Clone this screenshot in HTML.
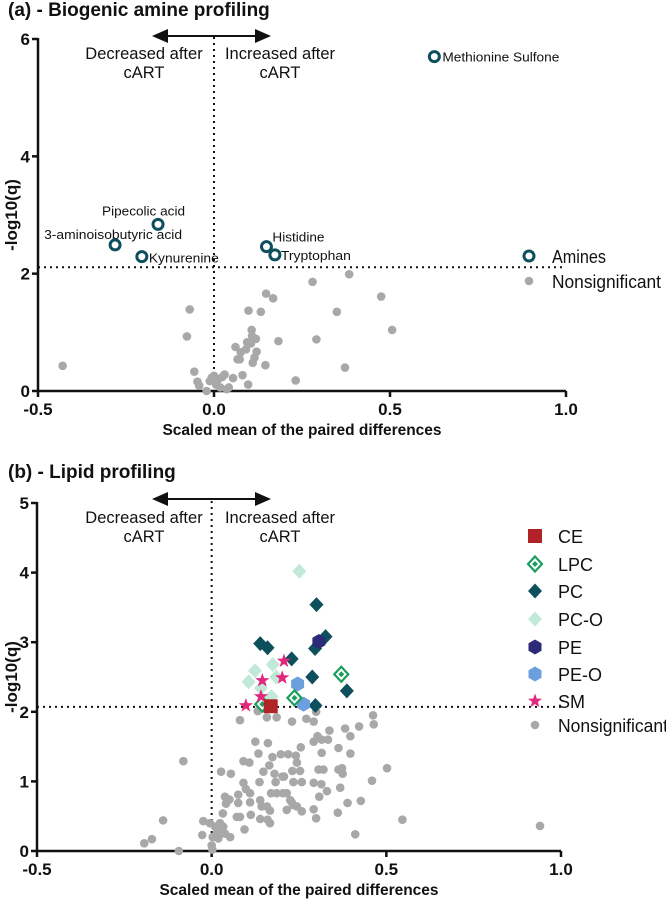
<!DOCTYPE html>
<html><head><meta charset="utf-8">
<style>
html,body{margin:0;padding:0;background:#fff;}
svg{display:block;font-family:"Liberation Sans",sans-serif;}
</style></head>
<body>
<svg id="chart" width="666" height="901" viewBox="0 0 666 901" xmlns="http://www.w3.org/2000/svg">
</svg>
<script>
// ---------- Panel A data ----------
const aTicksX = [-0.5, 0.0, 0.5, 1.0];
const aTickLabelsX = ["-0.5", "0.0", "0.5", "1.0"];
const aTicksY = [0, 2, 4, 6];
const aThreshold = 2.11;
const aAmineNames = ["Methionine Sulfone","Pipecolic acid","3-aminoisobutyric acid","Kynurenine","Histidine","Tryptophan"];
const aAmineX = [0.626, -0.159, -0.281, -0.205, 0.149, 0.173];
const aAmineY = [5.70, 2.84, 2.49, 2.29, 2.46, 2.32];
const aNsX = [-0.43,-0.069,-0.077,-0.056,-0.047,-0.042,-0.021,-0.012,-0.006,0,0.006,0.012,0.018,0.024,0.03,0.036,0.042,0.054,0.061,0.067,0.073,0.076,0.081,0.091,0.094,0.097,0.098,0.105,0.107,0.108,0.11,0.115,0.119,0.121,0.133,0.146,0.148,0.168,0.183,0.232,0.28,0.291,0.349,0.372,0.384,0.475,0.506];
const aNsY = [0.43,1.39,0.93,0.33,0.16,0.09,0.0,0.17,0.23,0.26,0.11,0.2,0.06,0.24,0.28,0.03,0.06,0.22,0.75,0.54,0.54,0.66,0.27,0.71,0.83,0.11,1.37,0.81,1.04,0.94,0.48,0.57,0.89,0.67,1.35,0.44,1.66,1.58,0.85,0.18,1.86,0.88,1.35,0.4,1.99,1.61,1.04];

// ---------- Panel B data ----------
const bTicksY = [0, 1, 2, 3, 4, 5];
const bThreshold = 2.07;
const ceX = [0.169]; const ceY = [2.08];
const lpcX = [0.371, 0.237, 0.145]; const lpcY = [2.54, 2.20, 2.11];
const pcX = [0.30, 0.326, 0.139, 0.160, 0.296, 0.229, 0.288, 0.387, 0.297];
const pcY = [3.54, 3.08, 2.98, 2.92, 2.91, 2.76, 2.50, 2.30, 2.09];
const pcoX = [0.251, 0.124, 0.175, 0.185, 0.106, 0.141, 0.171];
const pcoY = [4.02, 2.59, 2.68, 2.50, 2.43, 2.34, 2.22];
const peX = [0.307]; const peY = [3.01];
const peoX = [0.246, 0.263]; const peoY = [2.40, 2.11];
const smX = [0.207, 0.202, 0.145, 0.141, 0.098]; const smY = [2.73, 2.49, 2.45, 2.22, 2.09];
const bNsX = [-0.081,-0.139,-0.193,-0.171,-0.094,-0.024,-0.027,-0.005,0.003,0.000,0.002,0.010,0.014,0.019,0.024,0.029,0.033,0.038,0.053,0.032,0.038,0.051,0.041,0.027,0.055,0.076,0.076,0.072,0.081,0.094,0.091,0.098,0.110,0.112,0.110,0.091,0.108,0.125,0.134,0.137,0.148,0.139,0.143,0.139,0.161,0.165,0.174,0.160,0.167,0.158,0.167,0.170,0.180,0.183,0.186,0.198,0.203,0.207,0.204,0.215,0.219,0.225,0.229,0.234,0.244,0.241,0.244,0.231,0.253,0.255,0.234,0.258,0.215,0.258,0.292,0.299,0.292,0.308,0.314,0.306,0.320,0.315,0.292,0.303,0.315,0.333,0.337,0.330,0.363,0.361,0.363,0.373,0.375,0.368,0.389,0.397,0.397,0.382,0.422,0.462,0.464,0.411,0.427,0.459,0.502,0.546,0.081,0.132,0.158,0.186,0.230,0.271,0.292,0.299,0.94];
const bNsY = [1.29,0.44,0.11,0.17,0.00,0.43,0.23,0.40,0.20,0.08,0.02,0.35,0.25,0.18,0.40,0.30,0.35,0.25,0.20,0.54,0.78,0.74,0.68,1.14,1.11,0.81,0.69,0.49,0.49,0.31,0.98,0.89,0.83,0.52,0.70,1.29,1.27,1.57,1.40,0.99,1.14,0.73,0.64,0.46,1.55,1.23,1.35,0.45,0.40,0.64,0.58,0.83,1.11,0.99,0.83,1.39,1.07,1.07,0.83,0.83,1.39,0.73,0.70,0.66,0.64,1.37,1.27,1.15,1.15,1.49,0.99,0.99,0.59,0.57,0.60,0.47,0.98,0.78,0.96,1.17,1.17,1.41,1.57,1.65,1.60,1.60,1.73,0.86,1.48,0.55,1.17,1.19,1.11,0.91,0.69,1.40,1.65,1.76,1.79,1.95,1.82,0.24,0.72,1.01,1.19,0.45,1.88,2.01,1.92,1.92,1.86,1.90,1.86,2.00,0.36];
const bLegendLabels = ["CE","LPC","PC","PC-O","PE","PE-O","SM","Nonsignificant"];

const NS = "http://www.w3.org/2000/svg";
const svg = document.getElementById('chart');
function el(tag, attrs, parent, text){
  const e = document.createElementNS(NS, tag);
  for (const k in attrs) e.setAttribute(k, attrs[k]);
  if (text !== undefined) e.textContent = text;
  (parent || svg).appendChild(e);
  return e;
}
const GRAY = "#a8a8a8", TEAL = "#0d4f5c";

function marker(g, type, cx, cy, color){
  let m;
  if (type === 'dot') m = el('circle', {cx, cy, r: 4.3, fill: color}, g);
  else if (type === 'ring') m = el('circle', {cx, cy, r: 5, fill: 'none', stroke: color, 'stroke-width': 3}, g);
  else if (type === 'square') m = el('rect', {x: cx-7, y: cy-7, width: 14, height: 14, fill: color}, g);
  else if (type === 'diamond') m = el('path', {d: `M${cx},${cy-7.5}L${cx+7},${cy}L${cx},${cy+7.5}L${cx-7},${cy}Z`, fill: color}, g);
  else if (type === 'odiamond') {
    m = el('path', {d: `M${cx},${cy-7.5}L${cx+7},${cy}L${cx},${cy+7.5}L${cx-7},${cy}Z`, fill: '#fff', stroke: color, 'stroke-width': 2.2}, g);
    el('path', {d: `M${cx},${cy-3}L${cx+3},${cy}L${cx},${cy+3}L${cx-3},${cy}Z`, fill: color}, g);
  }
  else if (type === 'hex') {
    let p = [];
    for (let i = 0; i < 6; i++){ const a = Math.PI/6 + i*Math.PI/3; p.push((cx+7.5*Math.cos(a)).toFixed(1)+','+(cy+7.5*Math.sin(a)).toFixed(1)); }
    m = el('polygon', {points: p.join(' '), fill: color}, g);
  }
  else if (type === 'star') {
    let p = [];
    for (let i = 0; i < 10; i++){ const r = i%2 ? 3 : 7.5; const a = -Math.PI/2 + i*Math.PI/5; p.push((cx+r*Math.cos(a)).toFixed(1)+','+(cy+r*Math.sin(a)).toFixed(1)); }
    m = el('polygon', {points: p.join(' '), fill: color}, g);
  }
  return m;
}

function panel(opts){
  const {x0, x1, yTop, yBot, yMax, ticksY, threshold, prefix, title, titleY, arrowY, txtY} = opts;
  const X = v => x0 + (v + 0.5) / 1.5 * (x1 - x0);
  const Y = v => yBot - v / yMax * (yBot - yTop);
  const g = el('g', {});
  
  
  const t = el('text', {x: 8, y: titleY, 'font-size': 19, 'font-weight': 'bold', fill: '#111'}, g, title);
  
  
  const ya = el('line', {x1: x0, y1: yTop - 1, x2: x0, y2: yBot, stroke: '#111', 'stroke-width': 2.5}, g);
  
  
  const xa = el('line', {x1: x0, y1: yBot, x2: x1, y2: yBot, stroke: '#111', 'stroke-width': 2.5}, g);
  
  
  ticksY.forEach(v => {
    el('line', {x1: x0 - 6, y1: Y(v), x2: x0, y2: Y(v), stroke: '#111', 'stroke-width': 2.5}, g);
    const tl = el('text', {x: x0 - 8, y: Y(v) + 6, 'font-size': 17, 'font-weight': 'bold', 'text-anchor': 'end', fill: '#111'}, g, String(v));
    
    
  });
  aTicksX.forEach((v, i) => {
    el('line', {x1: X(v), y1: yBot, x2: X(v), y2: yBot + 6, stroke: '#111', 'stroke-width': 2.5}, g);
    const tl = el('text', {x: X(v), y: yBot + 24, 'font-size': 17, 'font-weight': 'bold', 'text-anchor': 'middle', fill: '#111'}, g, aTickLabelsX[i]);
    
    
  });
  const xt = el('text', {x: X(0.25), y: yBot + 44, 'font-size': 15.5, 'font-weight': 'bold', 'text-anchor': 'middle', fill: '#111'}, g, 'Scaled mean of the paired differences');
  
  
  const cy = (yTop + yBot) / 2;
  const yt = el('text', {x: 0, y: 0, 'font-size': 17, 'font-weight': 'bold', 'text-anchor': 'middle', fill: '#111', transform: `translate(17,${cy}) rotate(-90)`}, g, '-log10(q)');
  
  
  const th = el('line', {x1: x0, y1: Y(threshold), x2: x1, y2: Y(threshold), stroke: '#111', 'stroke-width': 2, 'stroke-dasharray': '2,4'}, g);
  
  
  const vz = el('line', {x1: X(0), y1: yTop - 2, x2: X(0), y2: yBot, stroke: '#111', 'stroke-width': 2, 'stroke-dasharray': '2,4'}, g);
  
  
  const ar = el('line', {x1: 158, y1: arrowY, x2: 265, y2: arrowY, stroke: '#111', 'stroke-width': 2}, g);
  
  
  el('path', {d: `M152,${arrowY} L168,${arrowY-7} L168,${arrowY+7}Z`, fill: '#111'}, g);
  el('path', {d: `M271,${arrowY} L255,${arrowY-7} L255,${arrowY+7}Z`, fill: '#111'}, g);
  const d1 = el('text', {x: 144, y: txtY, 'font-size': 16.5, 'text-anchor': 'middle', fill: '#111'}, g, 'Decreased after');
  
  
  el('text', {x: 144, y: txtY + 19, 'font-size': 16.5, 'text-anchor': 'middle', fill: '#111'}, g, 'cART');
  const i1 = el('text', {x: 280, y: txtY, 'font-size': 16.5, 'text-anchor': 'middle', fill: '#111'}, g, 'Increased after');
  
  
  el('text', {x: 280, y: txtY + 19, 'font-size': 16.5, 'text-anchor': 'middle', fill: '#111'}, g, 'cART');
  return {g, X, Y};
}

// ===== Panel A =====
const A = panel({x0: 38, x1: 566, yTop: 39, yBot: 391, yMax: 6, ticksY: aTicksY, threshold: aThreshold, prefix: 'amine', title: '(a) - Biogenic amine profiling', titleY: 16, arrowY: 36, txtY: 59});
for (let i = 0; i < aNsX.length; i++){
  const m = marker(A.g, 'dot', A.X(aNsX[i]), A.Y(aNsY[i]), GRAY);
  
  
}
const aLabelDx = [8, -56, -71, 7, 6, 6];
const aLabelDy = [5, -9, -6, 6, -5, 5];
const aLen = [117, 83, 138, 70, 52, 70];
for (let i = 0; i < aAmineX.length; i++){
  const cx = A.X(aAmineX[i]), cy = A.Y(aAmineY[i]);
  const m = marker(A.g, 'ring', cx, cy, TEAL);
  
  
  const t = el('text', {x: cx + aLabelDx[i], y: cy + aLabelDy[i], 'font-size': 13, 'text-anchor': 'start', fill: '#111', textLength: aLen[i], lengthAdjust: 'spacingAndGlyphs'}, A.g, aAmineNames[i]);
  
  
}
{
  const lg = el('g', {});
  
  
  const m1 = marker(lg, 'ring', 529, 256, TEAL);
  
  
  const t1 = el('text', {x: 552, y: 263, 'font-size': 18, fill: '#111', textLength: 54, lengthAdjust: 'spacingAndGlyphs'}, lg, 'Amines');
  
  
  const m2 = marker(lg, 'dot', 529, 281, GRAY);
  
  
  const t2 = el('text', {x: 552, y: 288, 'font-size': 18, fill: '#111', textLength: 109, lengthAdjust: 'spacingAndGlyphs'}, lg, 'Nonsignificant');
  
  
}

// ===== Panel B =====
const B = panel({x0: 37, x1: 561, yTop: 503, yBot: 851, yMax: 5, ticksY: bTicksY, threshold: bThreshold, prefix: 'lipid', title: '(b) - Lipid profiling', titleY: 478, arrowY: 499, txtY: 523});
for (let i = 0; i < bNsX.length; i++){
  const m = marker(B.g, 'dot', B.X(bNsX[i]), B.Y(bNsY[i]), GRAY);
  
  
}
const groups = [
  {xs: pcoX, ys: pcoY, type: 'diamond', color: '#c2e8d8', name: 'pc-o-point'},
  {xs: pcX, ys: pcY, type: 'diamond', color: '#0d4f5c', name: 'pc-point'},
  {xs: peoX, ys: peoY, type: 'hex', color: '#6b9fdd', name: 'pe-o-point'},
  {xs: peX, ys: peY, type: 'hex', color: '#2d2a7a', name: 'pe-point'},
  {xs: lpcX, ys: lpcY, type: 'odiamond', color: '#1a9e5e', name: 'lpc-point'},
  {xs: smX, ys: smY, type: 'star', color: '#e2287c', name: 'sm-point'},
  {xs: ceX, ys: ceY, type: 'square', color: '#b02326', name: 'ce-point'}
];
groups.forEach(gr => {
  for (let i = 0; i < gr.xs.length; i++){
    const m = marker(B.g, gr.type, B.X(gr.xs[i]), B.Y(gr.ys[i]), gr.color);
    
    
  }
});
{
  const lg = el('g', {});
  
  
  const types = ['square','odiamond','diamond','diamond','hex','hex','star','dot'];
  const colors = ['#b02326','#1a9e5e','#0d4f5c','#c2e8d8','#2d2a7a','#6b9fdd','#e2287c',GRAY];
  const rows = [536, 564, 591, 619, 647, 674, 701, 725];
  bLegendLabels.forEach((lab, i) => {
    const m = marker(lg, types[i], 535, rows[i], colors[i]);
    
    
    const attrs = {x: 558, y: rows[i] + 7, 'font-size': 18, fill: '#111'};
    if (lab === 'Nonsignificant') { attrs.textLength = 110; attrs.lengthAdjust = 'spacingAndGlyphs'; }
    const t = el('text', attrs, lg, lab);
    
    
  });
}
</script>
</body></html>
